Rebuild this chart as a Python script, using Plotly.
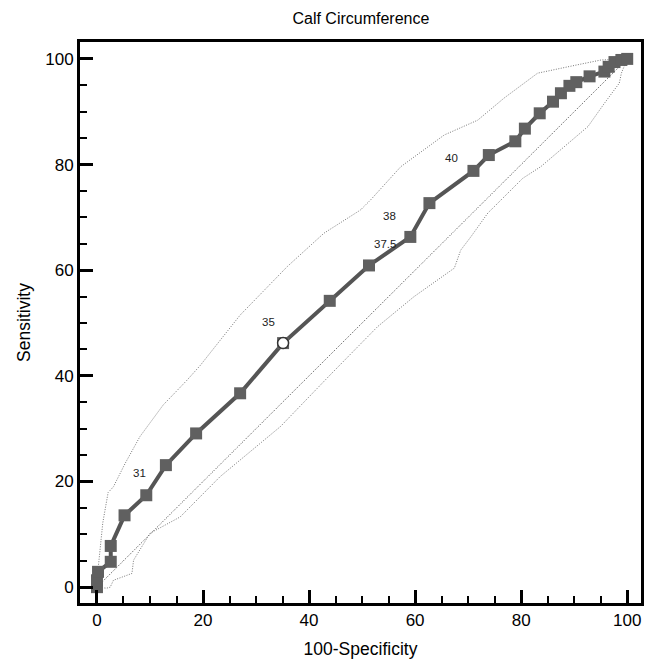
import plotly.graph_objects as go

# ROC curve points (100-Specificity, Sensitivity)
roc_x = [0, 0, 0.2, 2.6, 2.6, 5.2, 9.3, 13.0, 18.7, 27.0, 35.1, 43.9, 51.3, 59.1,
         62.7, 71.0, 73.9, 78.9, 80.7, 83.5, 86.0, 87.5, 89.1, 90.4, 92.9, 95.7,
         96.5, 97.6, 98.9, 100]
roc_y = [0, 1.3, 2.9, 4.8, 7.8, 13.6, 17.4, 23.1, 29.1, 36.7, 46.2, 54.2, 60.9, 66.3,
         72.7, 78.8, 81.8, 84.4, 86.8, 89.7, 91.9, 93.5, 94.9, 95.6, 96.7, 97.6,
         98.5, 99.4, 99.8, 100]

# optimal criterion point
opt_x = [35.1]
opt_y = [46.2]

# confidence bands
upper_x = [0, 0.25, 1.1, 2.1, 3.1, 5.3, 8.1, 10.0, 12.5, 17.0, 19.5, 27.0, 35.9,
           42.8, 49.7, 51.6, 55.0, 57.3, 65.5, 71.8, 76.8, 83.1, 90.7, 95.1, 100]
upper_y = [0, 3.8, 12.2, 17.9, 19.0, 23.4, 28.5, 31.0, 34.5, 39.2, 42.0, 51.5, 60.7,
           67.0, 71.4, 73.3, 77.0, 79.6, 85.6, 88.4, 92.6, 97.3, 98.9, 99.8, 100]
lower_x = [0, 1.8, 2.5, 3.1, 6.6, 6.9, 10.0, 15.7, 23.2, 34.6, 44.0, 52.9, 59.8,
           67.4, 68.6, 70.5, 73.7, 80.3, 83.7, 92.6, 95.7, 98.5, 98.9, 100]
lower_y = [0, -0.2, 0, 1.3, 2.6, 5.1, 10.2, 13.3, 20.9, 30.4, 40.2, 49.3, 55.0,
           60.4, 63.8, 66.3, 70.8, 77.4, 79.6, 87.2, 91.6, 95.4, 97.3, 100]

diag = [0, 100]

# criterion labels
lab_text = ["31", "35", "37.5", "38", "40"]
lab_x = [8.0, 32.3, 54.3, 55.2, 66.9]
lab_y = [21.6, 50.2, 65.0, 70.3, 81.2]

fig = go.Figure()

fig.add_trace(go.Scatter(x=diag, y=diag, mode='lines',
                         line=dict(color='#444', width=1, dash='1px,1.5px')))
fig.add_trace(go.Scatter(x=upper_x, y=upper_y, mode='lines',
                         line=dict(color='#777', width=1, dash='1px,1.5px')))
fig.add_trace(go.Scatter(x=lower_x, y=lower_y, mode='lines',
                         line=dict(color='#777', width=1, dash='1px,1.5px')))
fig.add_trace(go.Scatter(x=roc_x, y=roc_y, mode='lines+markers',
                         line=dict(color='#555555', width=4),
                         marker=dict(symbol='square', size=12, color='#606060')))
fig.add_trace(go.Scatter(x=opt_x, y=opt_y, mode='markers',
                         marker=dict(symbol='circle', size=11, color='white',
                                     line=dict(color='#333', width=1.5))))

for t, x, y in zip(lab_text, lab_x, lab_y):
    fig.add_annotation(x=x, y=y, text=t, showarrow=False,
                       font=dict(size=11.5, color='#222222'))

axis_common = dict(
    showline=True, linecolor='black', linewidth=3, mirror=True,
    ticks='inside', ticklen=13, tickwidth=3, tickcolor='black',
    dtick=20, tick0=0, showgrid=False, zeroline=False,
    minor=dict(ticks='inside', ticklen=7, tickwidth=2, dtick=5, tickcolor='black'),
    tickfont=dict(size=17, color='black'),
)

# the page adds 8px around the figure, margins are shifted to compensate
fig.update_layout(
    title=dict(text='Calf Circumference', x=0.538, y=0.985, xanchor='center',
               yanchor='middle', font=dict(size=16, color='black')),
    width=656, height=662,
    margin=dict(l=72, r=23, t=34, b=67),
    plot_bgcolor='white', paper_bgcolor='white',
    showlegend=False,
    font=dict(family='Liberation Sans, Arial, sans-serif'),
    xaxis=dict(range=[-3.2, 102.6], title=dict(text='100-Specificity', standoff=14,
               font=dict(size=17.5, color='black')), **axis_common),
    yaxis=dict(range=[-3.0, 103.2], title=dict(text='Sensitivity', standoff=11,
               font=dict(size=17.5, color='black')), **axis_common),
)

fig.write_html("out.html")
